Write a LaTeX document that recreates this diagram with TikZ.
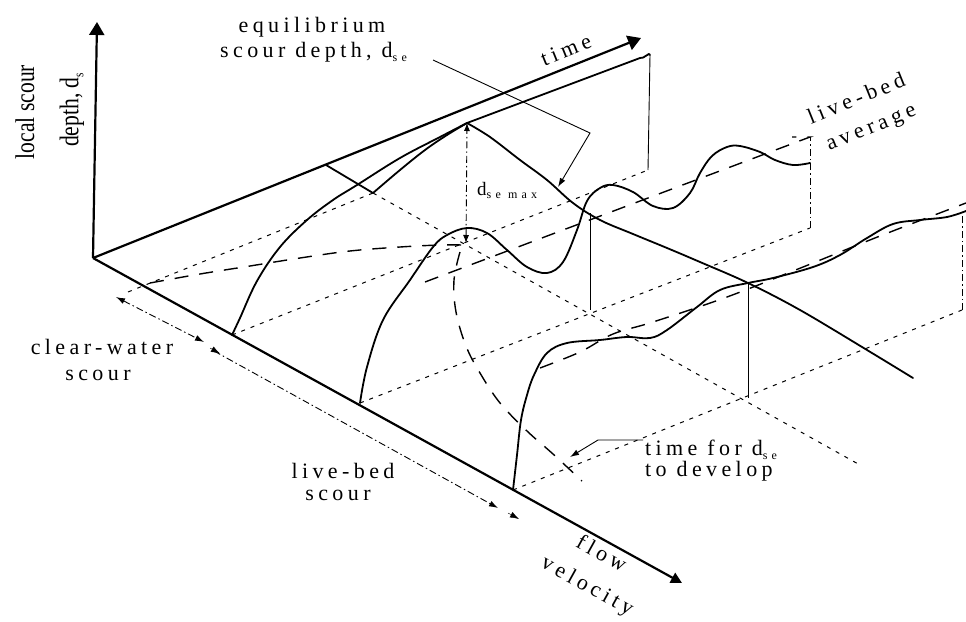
\documentclass[tikz,border=0pt]{standalone}
\usepackage{fontspec}
\newfontfamily\lbl[LetterSpace=20]{Liberation Serif}
\newfontfamily\lblsub[LetterSpace=35]{Liberation Serif}
\newfontfamily\lblc{Liberation Serif}
\usetikzlibrary{arrows.meta}
\newcommand\sub[1]{\raisebox{-0.45ex}{\lblsub\fontsize{12}{12}\selectfont #1}}
\begin{document}
\begin{tikzpicture}[x=1pt,y=-1pt,
  ax/.style={line width=2.2pt},
  crv/.style={line width=1.8pt, line join=round, line cap=round},
  thin/.style={line width=0.9pt},
  sdash/.style={line width=1pt, dash pattern=on 4pt off 6pt},
  ldash/.style={line width=1.4pt, dash pattern=on 14pt off 11pt},
  ddot/.style={line width=0.9pt, dash pattern=on 7pt off 3pt on 1.5pt off 3pt},
  lab/.style={font=\lbl\fontsize{22}{24}\selectfont, inner sep=0pt},
  big/.style={-{Triangle[length=13pt,width=15pt]}},
  sm/.style={-{Latex[length=9pt,width=6pt]}},
]
\useasboundingbox (0,0) rectangle (966,621);
% key points
\coordinate (O) at (93,258);
\coordinate (Ztip) at (97,22);
\coordinate (Ttip) at (641,38);
\coordinate (Vtip) at (682,583);
\coordinate (P1) at (232,335);
\coordinate (P2) at (360,403);
\coordinate (P3) at (513,490);
\coordinate (V0f) at (128,292);
\coordinate (Te0) at (326,165);
\coordinate (Te1) at (373,193);
\coordinate (Peak) at (467,123);
\coordinate (P1end) at (650,55);
\coordinate (P1endf) at (648,170);
\coordinate (P1tef) at (466,243);
\coordinate (P2te) at (590,213);
\coordinate (P2tef) at (590,310);
\coordinate (P3te) at (748,283);
\coordinate (P3tef) at (748,398);
\coordinate (Tefend) at (860,465);
\coordinate (P2endf) at (810,228);
\coordinate (P2endt) at (810,137);
\coordinate (P3endf) at (962,310);
\coordinate (P3endt) at (962,210);

% axes
\draw[ax,big] (O) -- (Ztip);
\draw[ax,big] (O) -- (Ttip);
\draw[ax,-{Triangle[length=11pt,width=11pt]}] (O) -- (Vtip);

% floor lines parallel to time axis
\draw[sdash] (V0f) -- (Te1);
\draw[sdash] (P1) -- (P1endf);
\draw[sdash] (P2) -- (P2endf);
\draw[sdash] (P3) -- (P3endf);
% floor line of the t_e plane
\draw[sdash] (Te1) -- (Tefend);

% verticals
\draw[thin] (P1endf) -- (P1end);
\draw[ddot] (P2endf) -- (P2endt);
\draw[ddot] (P3endf) -- (P3endt);
\draw[thin] (P2tef) -- (P2te);
\draw[thin] (P3tef) -- (P3te);
\draw[ddot,{Latex[length=8pt,width=6pt]}-{Latex[length=8pt,width=6pt]}] (P1tef) -- (Peak);

% equilibrium scour depth curve
\draw[crv] (Te0) -- (Te1)
  plot[smooth,tension=0.6] coordinates {(373,193) (400,170) (425,150) (447,135) (467,123)}
  plot[smooth,tension=0.6] coordinates {(467,123) (490,137) (520,160) (547,180) (573,203) (600,220) (633,234) (667,248) (700,262) (748,283) (800,310) (867,350) (913,378)};

% clear-water curve at threshold velocity
\draw[crv] plot[smooth,tension=0.6] coordinates {(232,335) (240,318) (257,281) (280,247) (307,220) (333,200) (357,185) (400,158) (440,137) (467,123)};
\draw[crv] (Peak) -- (640,58) to[out=-20,in=90] (P1end);

% live-bed curve P2
\draw[crv] plot[smooth,tension=0.6] coordinates {(360,403) (367,367) (383,320) (410,280) (433,247) (447,235) (467,228) (487,233) (507,250) (527,267) (547,273) (563,262) (577,230) (587,201) (600,188) (613,185) (633,192) (653,206) (673,208) (690,193) (700,173) (712,156) (727,147) (740,146) (760,152) (775,160) (793,165) (810,163)};
\draw[ldash] (425,282) -- (P2endt) -- ++(-18,0);

% live-bed curve P3
\draw[crv] plot[smooth,tension=0.6] coordinates {(513,490) (517,455) (521,420) (527,395) (534,375) (547,353) (567,343) (600,340) (627,337) (650,338) (667,330) (697,307) (720,290) (748,283) (773,278) (813,267) (840,255) (867,238) (893,224) (920,220) (947,217) (966,211)};
\draw[ldash] plot[smooth,tension=0.6] coordinates {(540,368) (580,352) (613,334) (653,322) (727,297) (803,267) (880,236) (966,203)};

% time for d_se to develop (floor curve)
\draw[ldash] plot[smooth,tension=0.6] coordinates {(150,283) (200,274) (250,266) (300,258) (350,251) (400,247) (440,245) (462,245)};
\draw[ldash] plot[smooth,tension=0.6] coordinates {(460,252) (454,280) (456,312) (466,346) (480,373) (500,403) (527,431) (553,454) (582,481)};

% range dimension lines along velocity axis
\draw[ddot,{Latex[length=9pt,width=6pt]}-{Latex[length=9pt,width=6pt]}] (116,297) -- (204,342);
\draw[ddot,sm] (214,351) -- (498,508);
\draw[-{Latex[length=9pt,width=6pt]}] (210,348) -- (220,353.5);
\draw[-{Latex[length=9pt,width=6pt]}] (508,513) -- (519,519);

% leaders
\coordinate (eqA) at (433,60);
\coordinate (eqB) at (590,133);
\coordinate (eqC) at (558,187);
\draw[thin,sm] (eqA) -- (eqB) -- (eqC);
\coordinate (tdA) at (643,440);
\coordinate (tdB) at (598,440);
\coordinate (tdC) at (570,457);
\draw[thin,sm] (tdA) -- (tdB) -- (tdC);

% labels
\node[lab,rotate=90] (lz1) at (25,112) {\scalebox{0.8}[1]{\lblc\fontsize{27}{27}\selectfont local scour}};
\node[lab,rotate=90] (lz2) at (72,110) {\scalebox{0.8}[1]{\lblc\fontsize{27}{27}\selectfont depth, d\raisebox{-0.4ex}{\fontsize{14}{14}\selectfont s}}};
\node[lab,anchor=base] (eq1) at (312,32) {equilibrium};
\node[lab,anchor=base west] (eq2) at (220,57) {scour depth, d\sub{se}};
\node[lab,rotate=22] (tm) at (566,50) {time};
\node[lab,rotate=22] (lb1) at (856,98) {live-bed};
\node[lab,rotate=22] (lb2) at (872,130) {average};
\node[lab,anchor=base] (cw1) at (102,354) {clear-water};
\node[lab,anchor=base] (cw2) at (98,380) {scour};
\node[lab,anchor=base] (lv1) at (343,478) {live-bed};
\node[lab,anchor=base] (lv2) at (338,500) {scour};
\node[lab,anchor=base west] (td1) at (645,455) {time for d\sub{se}};
\node[lab,anchor=base west] (td2) at (645,476) {to develop};
\node[lab,rotate=-29] (fv1) at (602,553) {flow};
\node[lab,rotate=-29] (fv2) at (587,587) {velocity};
\node[lab,anchor=base west,font=\lbl\fontsize{19}{20}\selectfont] (dm) at (477,195) {d\sub{se max}};
\end{tikzpicture}
\end{document}
